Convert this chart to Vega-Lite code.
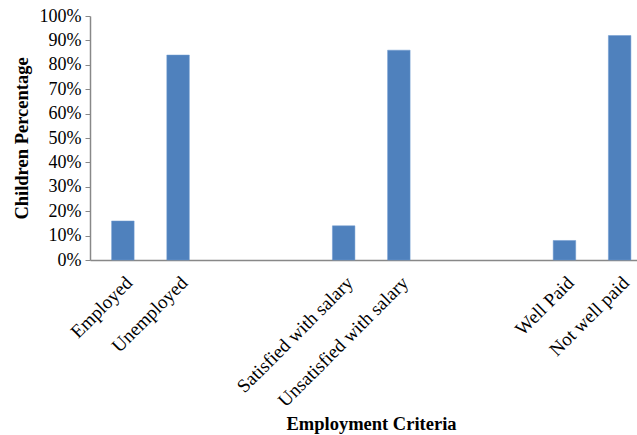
{
  "$schema": "https://vega.github.io/schema/vega-lite/v6.json",
  "autosize": "none",
  "width": 547,
  "height": 244,
  "padding": {"left": 90, "top": 16, "right": 0, "bottom": 175},
  "background": "white",
  "data": {
    "values": [
      {"criteria": "Employed", "pct": 0.16},
      {"criteria": "Unemployed", "pct": 0.84},
      {"criteria": "Satisfied with salary", "pct": 0.14},
      {"criteria": "Unsatisfied with salary", "pct": 0.86},
      {"criteria": "Well Paid", "pct": 0.08},
      {"criteria": "Not well paid", "pct": 0.92}
    ]
  },
  "mark": {"type": "bar", "color": "#4F81BD", "stroke": "#6f9ad0", "strokeWidth": 0.5},
  "encoding": {
    "x": {
      "field": "criteria",
      "type": "nominal",
      "sort": null,
      "scale": {
        "domain": ["Employed", "Unemployed", "gap1", "gap2", "Satisfied with salary", "Unsatisfied with salary", "gap3", "gap4", "Well Paid", "Not well paid"],
        "paddingInner": 0.592,
        "paddingOuter": 0.251,
        "align": 0.78
      },
      "axis": {
        "title": "Employment Criteria",
        "titleFont": "Liberation Serif",
        "titleFontSize": 18.5,
        "titleFontWeight": "bold",
        "titleColor": "black",
        "titleX": 281,
        "titleY": 169,
        "titleBaseline": "alphabetic",
        "labelExpr": "indexof(datum.label, 'gap') == 0 ? '' : datum.label",
        "labelAngle": -45,
        "labelFont": "Liberation Serif",
        "labelFontSize": 19,
        "labelColor": "black",
        "labelPadding": 13,
        "labelDx": -3,
        "ticks": false,
        "domainColor": "#888888",
        "domainWidth": 1.5,
        "grid": false
      }
    },
    "y": {
      "field": "pct",
      "type": "quantitative",
      "scale": {"domain": [0, 1]},
      "axis": {
        "title": "Children  Percentage",
        "titleFont": "Liberation Serif",
        "titleFontSize": 18.5,
        "titleFontWeight": "bold",
        "titleColor": "black",
        "titlePadding": 8,
        "format": ".0%",
        "values": [0, 0.1, 0.2, 0.3, 0.4, 0.5, 0.6, 0.7, 0.8, 0.9, 1],
        "labelFont": "Liberation Serif",
        "labelFontSize": 18,
        "labelColor": "black",
        "labelPadding": 4,
        "tickSize": 5,
        "tickColor": "#888888",
        "domainColor": "#888888",
        "domainWidth": 1.5,
        "grid": false
      }
    }
  },
  "config": {"view": {"stroke": null}}
}
